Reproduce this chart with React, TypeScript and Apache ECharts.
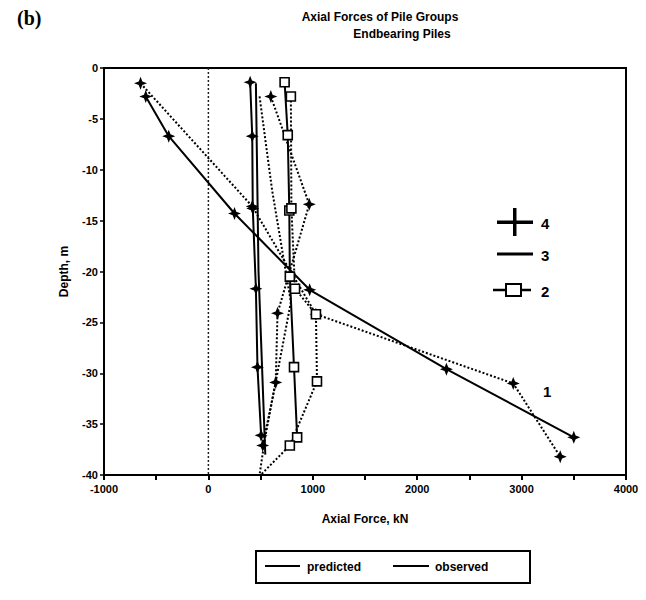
import React, { useEffect, useRef } from "react";
import * as echarts from "echarts";

// ---- data (kN, m) ----
const xTicks = [-1000, 0, 1000, 2000, 3000, 4000];
const yTicks = [0, -5, -10, -15, -20, -25, -30, -35, -40];

const pile1PredX = [-600, -380, 250, 970, 2280, 3500];
const pile1PredY = [-2.8, -6.7, -14.3, -21.8, -29.6, -36.3];
const pile1ObsX = [-650, 420, 1030, 2920, 3370];
const pile1ObsY = [-1.5, -13.6, -24.2, -31.0, -38.2];

const pile4PredX = [400, 420, 425, 455, 470, 505];
const pile4PredY = [-1.4, -6.7, -13.8, -21.7, -29.4, -36.1];
const pile4ObsX = [598, 966, 662, 645, 520];
const pile4ObsY = [-2.8, -13.4, -24.1, -30.9, -37.1];

const pile3PredX = [455, 480, 545];
const pile3PredY = [-1.5, -20, -38];
const pile3ObsX = [490, 610, 790, 540, 490];
const pile3ObsY = [-2.8, -12, -23, -36.5, -40];

const pile2PredX = [730, 760, 775, 780, 820, 850];
const pile2PredY = [-1.4, -6.6, -14.0, -20.5, -29.4, -36.3];
const pile2ObsX = [790, 795, 830, 1030, 1040, 780, 500];
const pile2ObsY = [-2.8, -13.8, -21.7, -24.2, -30.8, -37.1, -40];

const zeroLineX = [0, 0];
const zeroLineY = [0, -40];

const pileLabels = ["4", "3", "2", "1"];
const legendLabels = ["predicted", "observed"];

const FONT = "Liberation Sans";
const cross =
  "path://M0,-10 L2.8,-2.8 L10,0 L2.8,2.8 L0,10 L-2.8,2.8 L-10,0 L-2.8,-2.8 Z";

const pts = (xs: number[], ys: number[]) => xs.map((x, i) => [x, ys[i]]);

export default function App() {
  const ref = useRef<HTMLDivElement>(null);
  useEffect(() => {
    if (!ref.current) return;
    const chart = echarts.init(ref.current, undefined, { renderer: "svg" });

    const pred = (name: string, xs: number[], ys: number[], symbol: string, size: number, hollow = false) => ({
      name,
      type: "line",
      data: pts(xs, ys),
      symbol,
      symbolSize: size,
      lineStyle: { color: "#000", width: 2, type: "solid" },
      itemStyle: hollow
        ? { color: "#fff", borderColor: "#000", borderWidth: 1.6 }
        : { color: "#000" },
      z: 3,
    });
    const obs = (name: string, data: any[], symbol: string, size: number, hollow = false) => ({
      name,
      type: "line",
      data,
      symbol,
      symbolSize: size,
      lineStyle: { color: "#000", width: 2, type: [2, 2] },
      itemStyle: hollow
        ? { color: "#fff", borderColor: "#000", borderWidth: 1.6 }
        : { color: "#000" },
      z: 3,
    });

    const p2obs: any[] = pts(pile2ObsX, pile2ObsY).map((p, i) =>
      i === pile2ObsX.length - 1 ? { value: p, symbol: "none" } : p
    );

    const txt = (text: string, x: number, y: number, size: number, extra: any = {}) => ({
      type: "text",
      x,
      y,
      style: {
        text,
        fill: "#000",
        font: `bold ${size}px "${FONT}"`,
        textAlign: "left",
        textVerticalAlign: "middle",
        ...extra,
      },
      z: 10,
    });

    chart.setOption({
      animation: false,
      backgroundColor: "#fff",
      grid: {
        left: 104,
        right: 20,
        top: 68,
        bottom: 125,
        show: true,
        borderColor: "#000",
        borderWidth: 2,
        backgroundColor: "transparent",
      },
      xAxis: {
        type: "value",
        min: xTicks[0],
        max: xTicks[xTicks.length - 1],
        interval: 500,
        name: "Axial Force, kN",
        nameLocation: "middle",
        nameGap: 38,
        nameTextStyle: { fontFamily: FONT, fontWeight: "bold", fontSize: 12, color: "#000" },
        axisLine: { onZero: false, lineStyle: { color: "#000", width: 2 } },
        axisTick: { show: true, length: 5, lineStyle: { color: "#000", width: 2 } },
        axisLabel: {
          formatter: (v: number) => (xTicks.includes(v) ? String(v) : ""),
          fontFamily: FONT,
          fontWeight: "bold",
          fontSize: 11,
          color: "#000",
          margin: 8,
        },
        splitLine: { show: false },
      },
      yAxis: {
        type: "value",
        min: yTicks[yTicks.length - 1],
        max: yTicks[0],
        interval: 5,
        name: "Depth, m",
        nameLocation: "middle",
        nameGap: 34,
        nameRotate: 90,
        nameTextStyle: { fontFamily: FONT, fontWeight: "bold", fontSize: 12, color: "#000" },
        axisLine: { onZero: false, lineStyle: { color: "#000", width: 2 } },
        axisTick: { show: true, length: 4, lineStyle: { color: "#000", width: 1.5 } },
        axisLabel: {
          fontFamily: FONT,
          fontWeight: "bold",
          fontSize: 11,
          color: "#000",
          margin: 6,
        },
        splitLine: { show: false },
      },
      series: [
        {
          name: "zero",
          type: "line",
          data: pts(zeroLineX, zeroLineY),
          symbol: "none",
          lineStyle: { color: "#222", width: 1.5, type: [2, 2] },
          z: 2,
        },
        pred("1", pile1PredX, pile1PredY, cross, 13),
        obs("1 observed", pts(pile1ObsX, pile1ObsY), cross, 13),
        pred("4", pile4PredX, pile4PredY, cross, 13),
        obs("4 observed", pts(pile4ObsX, pile4ObsY), cross, 13),
        pred("3", pile3PredX, pile3PredY, "none", 0),
        obs("3 observed", pts(pile3ObsX, pile3ObsY), "none", 0),
        pred("2", pile2PredX, pile2PredY, "rect", 9, true),
        obs("2 observed", p2obs, "rect", 9, true),
      ],
      graphic: [
        txt("(b)", 17, 18, 20, { font: `bold 20px "Liberation Serif"` }),
        txt("Axial Forces of Pile Groups", 380, 17, 12, { textAlign: "center" }),
        txt("Endbearing Piles", 402, 34, 12, { textAlign: "center" }),
        // right legend
        { type: "rect", shape: { x: 497, y: 220.5, width: 36, height: 3.5 }, style: { fill: "#000" } },
        { type: "rect", shape: { x: 513, y: 208, width: 3.5, height: 28 }, style: { fill: "#000" } },
        txt(pileLabels[0], 541, 223, 15),
        { type: "line", shape: { x1: 497, y1: 254, x2: 533, y2: 254 }, style: { stroke: "#000", lineWidth: 3 } },
        txt(pileLabels[1], 541, 255, 15),
        { type: "line", shape: { x1: 493, y1: 290, x2: 531, y2: 290 }, style: { stroke: "#000", lineWidth: 2.5 } },
        { type: "rect", shape: { x: 506, y: 284, width: 15, height: 12 }, style: { fill: "#fff", stroke: "#000", lineWidth: 2 } },
        txt(pileLabels[2], 541, 291, 15),
        txt(pileLabels[3], 543, 391, 15),
        // bottom legend
        { type: "rect", shape: { x: 256, y: 551, width: 274, height: 32 }, style: { fill: "#fff", stroke: "#000", lineWidth: 2 } },
        { type: "line", shape: { x1: 265, y1: 566, x2: 300, y2: 566 }, style: { stroke: "#000", lineWidth: 2 } },
        txt(legendLabels[0], 307, 567, 12),
        { type: "line", shape: { x1: 393, y1: 566, x2: 429, y2: 566 }, style: { stroke: "#000", lineWidth: 2 } },
        txt(legendLabels[1], 435, 567, 12),
      ],
    });
    return () => chart.dispose();
  }, []);
  return (
    <div
      ref={ref}
      style={{ position: "fixed", left: 0, top: 0, width: 646, height: 600 }}
    />
  );
}
